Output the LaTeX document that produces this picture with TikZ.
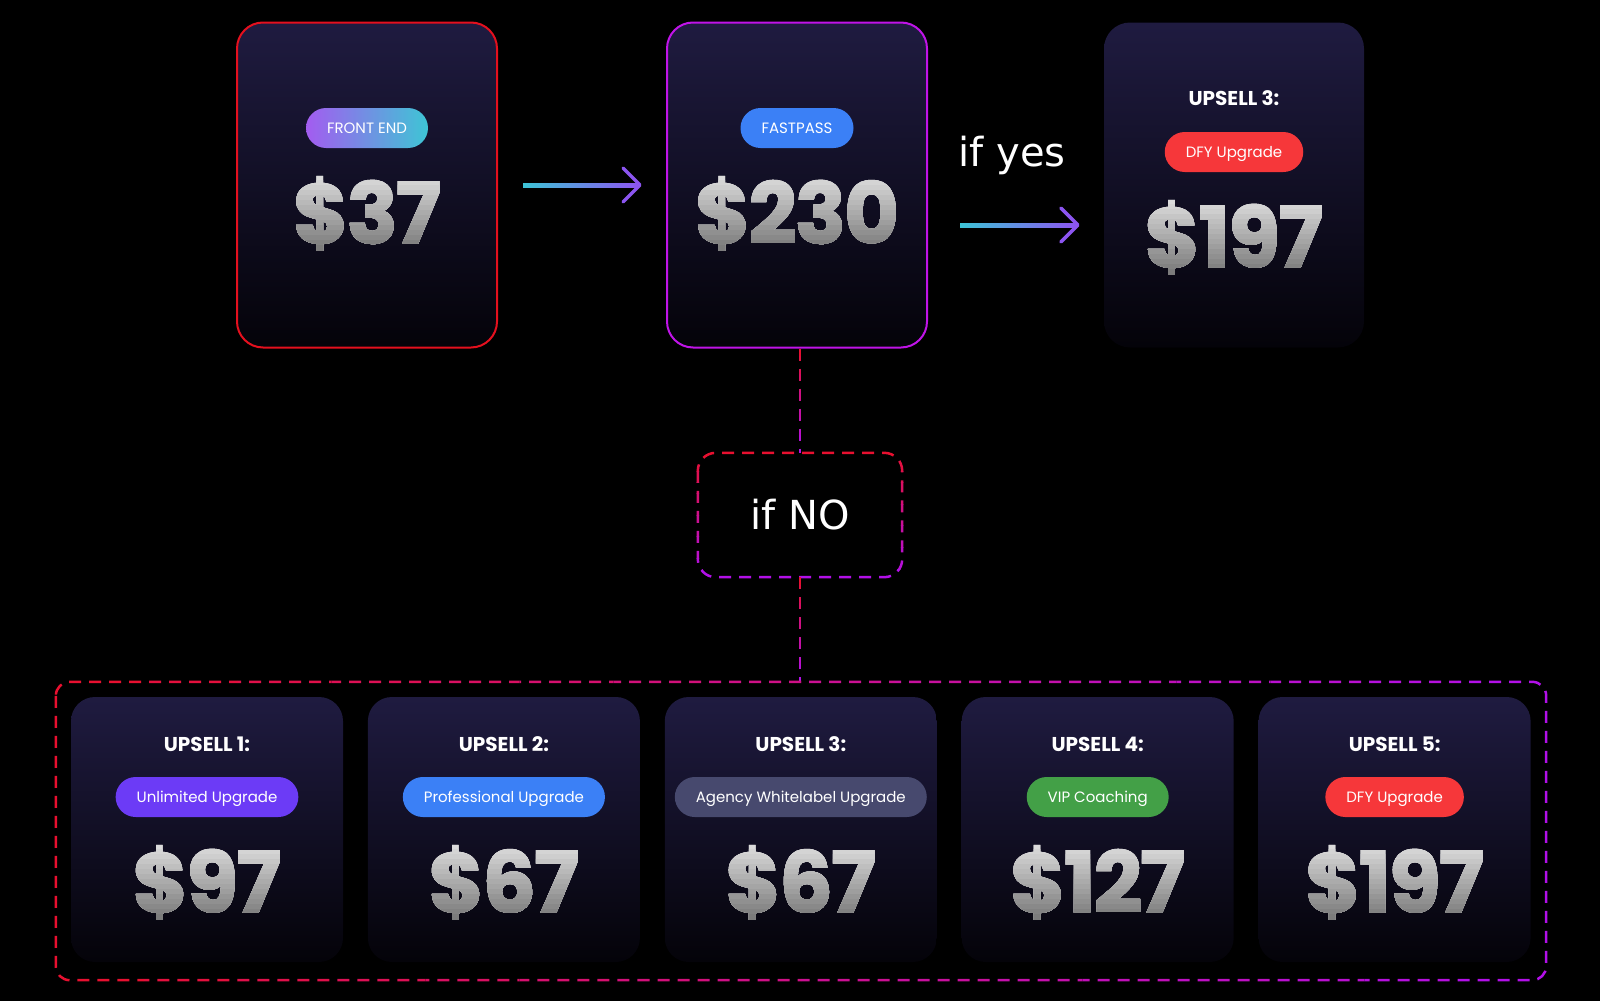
\documentclass[tikz,border=0pt]{standalone}
\usepackage{fontspec}
\setmainfont{Poppins}
\newfontfamily\pricefont{Poppins}[LetterSpace=-2, BoldFeatures={FakeBold=1.5}]
\newfontfamily\handfont{DejaVu Sans}
\usepackage{tikz}
\usetikzlibrary{calc, positioning}

\definecolor{cardtop}{RGB}{31,27,64}
\definecolor{cardbot}{RGB}{4,3,9}
\definecolor{borderred}{RGB}{228,16,30}
\definecolor{bordermag}{RGB}{192,20,232}
\definecolor{dashred}{RGB}{232,16,48}
\definecolor{dashpurple}{RGB}{178,16,232}
\definecolor{arrowcyan}{RGB}{60,196,214}
\definecolor{arrowpurple}{RGB}{140,85,240}
\definecolor{pricelight}{RGB}{226,226,226}
\definecolor{pricedark}{RGB}{124,124,124}
\definecolor{pillpurple}{RGB}{108,59,246}
\definecolor{pillblue}{RGB}{59,128,246}
\definecolor{pillslate}{RGB}{71,73,110}
\definecolor{pillgreen}{RGB}{67,160,71}
\definecolor{pillred}{RGB}{246,55,58}
\definecolor{feleft}{RGB}{163,92,240}
\definecolor{feright}{RGB}{62,197,213}

\tikzset{
    card/.style={rectangle, rounded corners=26pt, top color=cardtop, bottom color=cardbot, minimum width=260pt, minimum height=325pt},
    upcard/.style={card, minimum width=272pt, minimum height=265pt, rounded corners=24pt},
    pill/.style={rectangle, rounded corners=20pt, minimum height=40pt, inner xsep=21pt, inner ysep=0pt, text height=10.5pt, text depth=0pt, text=white, font=\fontsize{15}{18}\selectfont},
    price/.style={text=pricelight, inner sep=0pt, text height=60pt, text depth=0pt, font=\pricefont\fontsize{84}{90}\selectfont\bfseries},
    upsell/.style={text=white, inner sep=0pt, text height=14.5pt, text depth=0pt, font=\fontsize{20}{24}\selectfont\bfseries},
    hand/.style={text=white, font=\handfont\fontsize{40}{44}\selectfont},
    flowdash/.style={line width=2.5pt, dash pattern=on 12pt off 8pt},
    shaft/.style={left color=arrowcyan, right color=arrowpurple},
    tip/.style={draw=arrowpurple, line width=3.5pt, line cap=round, line join=round}
}

% dashed path whose colour runs from red (top) to purple (bottom)
\newcommand{\vgraddash}[3]{%
    \foreach \k in {0,...,11}{
        \pgfmathtruncatemacro{\mixv}{100-\k*100/11}
        \begin{scope}
            \clip (0,{#1+(#2-#1)/12*\k}) rectangle (1600,{#1+(#2-#1)/12*(\k+1)});
            \draw[flowdash, draw=dashred!\mixv!dashpurple] #3;
        \end{scope}
    }%
}

% silver price: light at the top, grey at the bottom
\newcommand{\silvertext}[2]{%
    \foreach \k in {1,...,15}{
        \pgfmathtruncatemacro{\mixv}{100-\k*100/15}
        \begin{scope}
            \clip ($(#1.north west)+(-25,{5*\k-12})$) rectangle ($(#1.south east)+(25,15)$);
            \node[price, text=pricelight!\mixv!pricedark] at (#1.center) {#2};
        \end{scope}
    }%
}

\begin{document}
\begin{tikzpicture}[x=1pt, y=-1pt]
    \useasboundingbox (0,0) rectangle (1600,1001);
    \fill[black] (0,0) rectangle (1600,1001);

    % --- TOP ROW ---
    \node[card, draw=borderred, line width=2pt] (front) at (367,185) {};
    \node[pill, left color=feleft, right color=feright] (frontpill) at ([yshift=57pt]front.center) {FRONT END};
    \node[price] (frontprice) at ([yshift=-28pt]front.center) {\$37};
    \silvertext{frontprice}{\$37}

    \node[card, draw=bordermag, line width=2pt] (fastpass) at (797,185) {};
    \node[pill, fill=pillblue] (fastpill) at ([yshift=57pt]fastpass.center) {FASTPASS};
    \node[price] (fastprice) at ([yshift=-28pt]fastpass.center) {\$230};
    \silvertext{fastprice}{\$230}

    \node[card] (topup) at (1234,185) {};
    \node[upsell] (topuplabel) at ([yshift=87pt]topup.center) {UPSELL 3:};
    \node[pill, fill=pillred] (topuppill) at ([yshift=33pt]topup.center) {DFY Upgrade};
    \node[price] (topupprice) at ([yshift=-52pt]topup.center) {\$197};
    \silvertext{topupprice}{\$197}

    % Arrows
    \coordinate (a1s) at ([xshift=25pt]front.east);
    \coordinate (a1e) at ([xshift=-26pt]fastpass.west);
    \shade[shaft] ($(a1s)+(0,-2)$) rectangle ($(a1e)+(-2,2)$);
    \draw[tip] ($(a1e)+(-17,-17)$) -- (a1e) -- ($(a1e)+(-17,17)$);

    \coordinate (a2s) at ([xshift=32pt, yshift=-40pt]fastpass.east);
    \coordinate (a2e) at ([xshift=-26pt, yshift=-40pt]topup.west);
    \shade[shaft] ($(a2s)+(0,-2)$) rectangle ($(a2e)+(-2,2)$);
    \draw[tip] ($(a2e)+(-17,-17)$) -- (a2e) -- ($(a2e)+(-17,17)$);
    \node[hand] (ifyes) at (1012,155) {if yes};

    % --- IF NO ---
    \node[rectangle, minimum width=204pt, minimum height=124pt, hand] (ifno) at (800,515) {if NO};
    \node[rectangle, minimum width=1490pt, minimum height=298pt] (upsells) at (801,831) {};

    \vgraddash{348}{453}{(ifno.north |- fastpass.south) -- (ifno.north)}
    \vgraddash{450}{580}{[rounded corners=18pt] (ifno.north west) rectangle (ifno.south east)}
    \vgraddash{577}{682}{(ifno.south) -- (ifno.south |- upsells.north)}

    % container, red on the left to purple on the right
    \foreach \k in {0,...,15}{
        \pgfmathtruncatemacro{\mixv}{100-\k*100/15}
        \begin{scope}
            \clip ({50+93.875*\k},670) rectangle ({143.875+93.875*\k},995);
            \draw[flowdash, draw=dashred!\mixv!dashpurple] [rounded corners=14pt] (upsells.north west) rectangle (upsells.south east);
        \end{scope}
    }

    % --- UPSELLS ---
    \node[upcard] (up1) at (207,829.5) {};
    \node[upcard, right=24.5pt of up1] (up2) {};
    \node[upcard, right=24.5pt of up2] (up3) {};
    \node[upcard, right=24.5pt of up3] (up4) {};
    \node[upcard, right=24.5pt of up4] (up5) {};

    \node[upsell] (up1label) at ([yshift=85.5pt]up1.center) {UPSELL 1:};
    \node[pill, fill=pillpurple] (up1pill) at ([yshift=32.5pt]up1.center) {Unlimited Upgrade};
    \node[price] (up1price) at ([yshift=-52.5pt]up1.center) {\$97};
    \silvertext{up1price}{\$97}

    \node[upsell] (up2label) at ([yshift=85.5pt]up2.center) {UPSELL 2:};
    \node[pill, fill=pillblue] (up2pill) at ([yshift=32.5pt]up2.center) {Professional Upgrade};
    \node[price] (up2price) at ([yshift=-52.5pt]up2.center) {\$67};
    \silvertext{up2price}{\$67}

    \node[upsell] (up3label) at ([yshift=85.5pt]up3.center) {UPSELL 3:};
    \node[pill, fill=pillslate] (up3pill) at ([yshift=32.5pt]up3.center) {Agency Whitelabel Upgrade};
    \node[price] (up3price) at ([yshift=-52.5pt]up3.center) {\$67};
    \silvertext{up3price}{\$67}

    \node[upsell] (up4label) at ([yshift=85.5pt]up4.center) {UPSELL 4:};
    \node[pill, fill=pillgreen] (up4pill) at ([yshift=32.5pt]up4.center) {VIP Coaching};
    \node[price] (up4price) at ([yshift=-52.5pt]up4.center) {\$127};
    \silvertext{up4price}{\$127}

    \node[upsell] (up5label) at ([yshift=85.5pt]up5.center) {UPSELL 5:};
    \node[pill, fill=pillred] (up5pill) at ([yshift=32.5pt]up5.center) {DFY Upgrade};
    \node[price] (up5price) at ([yshift=-52.5pt]up5.center) {\$197};
    \silvertext{up5price}{\$197}

\end{tikzpicture}
\end{document}
